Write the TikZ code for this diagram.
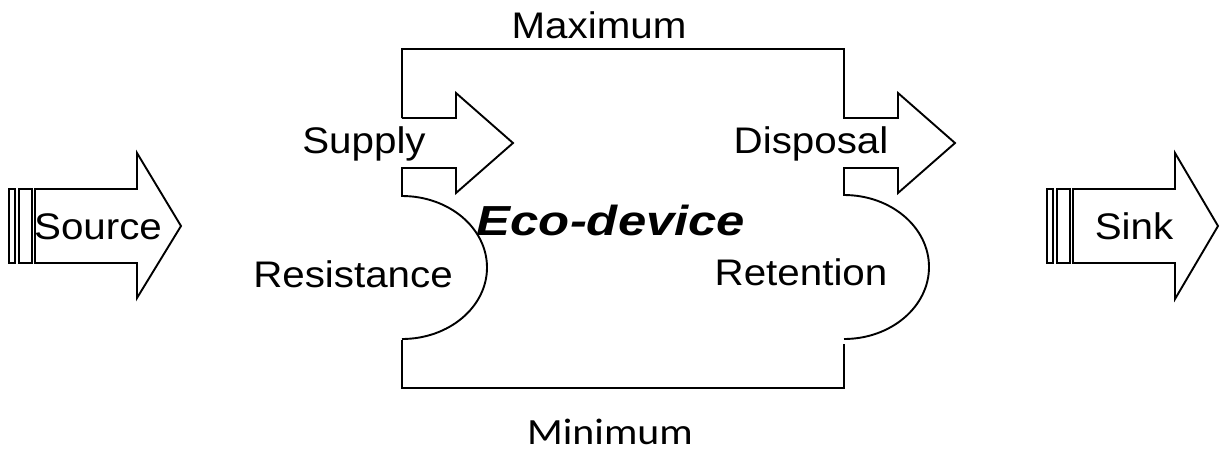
\documentclass[tikz,border=0pt]{standalone}
\usepackage{fontspec}
\setmainfont{Liberation Sans}
\newfontfamily\calfont{Carlito}
\newcommand{\hsc}[2]{\scalebox{#1}[1]{#2}}
\tikzset{
  ln/.style={line width=1.9pt, line join=miter, black},
  lbl/.style={anchor=base, inner sep=0pt, font=\fontsize{37}{40}\selectfont}
}
\begin{document}
\begin{tikzpicture}[x=1pt,y=-1pt]
\useasboundingbox (0,0) rectangle (1220,459);
% Source arrow
\draw[ln] (9,189) rectangle (15,263);
\draw[ln] (19,189) rectangle (32,263);
\draw[ln] (35,189) -- (137,189) -- (137,153) -- (181,226) -- (137,298) -- (137,263) -- (35,263) -- cycle;
% Sink arrow
\draw[ln] (1047,189) rectangle (1053,263);
\draw[ln] (1057,189) rectangle (1070,263);
\draw[ln] (1073,189) -- (1175,189) -- (1175,153) -- (1218,226) -- (1175,299) -- (1175,263) -- (1073,263) -- cycle;
% Eco-device top with disposal arrow and retention
\draw[ln] (402,118) -- (402,49) -- (844,49) -- (844,118) -- (898,118) -- (898,93) -- (955,143) -- (898,193) -- (898,168) -- (844,168) -- (844,195)
  arc[start angle=90, end angle=-90, x radius=85pt, y radius=72pt];
% Supply arrow and resistance
\draw[ln] (402,118) -- (456,118) -- (456,93) -- (513,143) -- (456,193) -- (456,168) -- (402,168) -- (402,196)
  arc[start angle=90, end angle=-90, x radius=85pt, y radius=71.5pt];
% bottom
\draw[ln] (402,340) -- (402,388) -- (844,388) -- (844,344);
% labels
\node[lbl] (max) at (599,38) {\hsc{1.09}{Maximum}};
\node[lbl] (sup) at (364,153) {\hsc{1.09}{Supply}};
\node[lbl] (dis) at (811,153) {\hsc{1.09}{Disposal}};
\node[lbl, font=\fontsize{42}{46}\selectfont\bfseries\itshape] (eco) at (611,235) {\hsc{1.21}{Eco-device}};
\node[lbl] (res) at (353,287) {\hsc{1.09}{Resistance}};
\node[lbl] (ret) at (801,285) {\hsc{1.09}{Retention}};
\node[lbl, font=\fontsize{37}{40}\calfont] (min) at (610,444) {\hsc{1.13}{Minimum}};
\node[lbl] (src) at (98,239) {\hsc{1.09}{Source}};
\node[lbl] (snk) at (1134,239) {\hsc{1.09}{Sink}};
\end{tikzpicture}
\end{document}
